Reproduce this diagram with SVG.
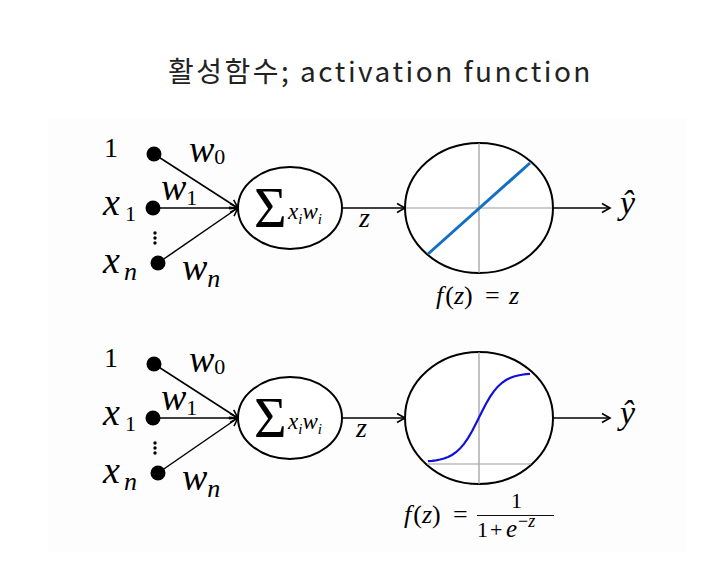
<svg xmlns="http://www.w3.org/2000/svg" width="716" height="568" viewBox="0 0 716 568">
<rect width="716" height="568" fill="#fff"/>
<style>
.bg{fill:#fdfdfd}
.edge{stroke:#000;stroke-width:1.5;fill:none}
.head{stroke:#000;stroke-width:1.6;fill:none}
.dot{fill:#000}
.node{fill:#fff;stroke:#000;stroke-width:2}
.axis{stroke:#999;stroke-width:1.2}
</style>
<rect class="bg" x="48" y="118" width="639" height="434"/>
<text x="168" y="82" font-family="Noto Sans CJK KR, sans-serif" font-size="28" fill="#222" letter-spacing="2.5">활성함수; activation function</text>
<g id="connectors">
<line class="edge" x1="154" y1="154" x2="237" y2="207.5"/>
<line class="edge" x1="153" y1="208" x2="237" y2="208"/>
<line class="edge" x1="158" y1="263" x2="237" y2="208.5"/>
<line class="edge" x1="342" y1="208" x2="404" y2="208"/>
<line class="edge" x1="553" y1="208" x2="609" y2="208"/>
<path class="head" d="M228.8,207.4 L238,208 L233.7,199.9"/>
<path class="head" d="M230,203.5 L238,208 L230,212.5"/>
<path class="head" d="M234,216.2 L238,208 L228.9,208.8"/>
<path class="head" d="M397,203.5 L405,208 L397,212.5"/>
<path class="head" d="M602,203.5 L610,208 L602,212.5"/>
<line class="edge" x1="154" y1="364" x2="237" y2="417.5"/>
<line class="edge" x1="153" y1="418" x2="237" y2="418"/>
<line class="edge" x1="158" y1="473" x2="237" y2="418.5"/>
<line class="edge" x1="342" y1="418" x2="404" y2="418"/>
<line class="edge" x1="553" y1="418" x2="609" y2="418"/>
<path class="head" d="M228.8,417.4 L238,418 L233.7,409.9"/>
<path class="head" d="M230,413.5 L238,418 L230,422.5"/>
<path class="head" d="M234,426.2 L238,418 L228.9,418.8"/>
<path class="head" d="M397,413.5 L405,418 L397,422.5"/>
<path class="head" d="M602,413.5 L610,418 L602,422.5"/>
</g>
<g id="in-bias-1">
<circle class="dot" cx="154" cy="154" r="7.5"/>
<text x="104" y="157" font-family="Liberation Serif" font-size="28">1</text>
<text x="189" y="162" font-family="Liberation Serif" font-size="38" font-style="italic">w<tspan font-style="normal" font-size="22" dy="2">0</tspan></text>
</g>
<g id="in-x1-1">
<circle class="dot" cx="153" cy="208" r="7.5"/>
<text x="103" y="215" font-family="Liberation Serif" font-size="38" font-style="italic">x<tspan font-style="normal" font-size="22" dy="6" dx="5">1</tspan></text>
<text x="161" y="200" font-family="Liberation Serif" font-size="38" font-style="italic">w<tspan font-style="normal" font-size="22" dy="5">1</tspan></text>
</g>
<g id="in-dots-1">
<circle class="dot" cx="155" cy="233" r="1.7"/>
<circle class="dot" cx="155" cy="238" r="1.7"/>
<circle class="dot" cx="155" cy="243" r="1.7"/>
</g>
<g id="in-xn-1">
<circle class="dot" cx="158" cy="263" r="7.5"/>
<text x="103" y="273" font-family="Liberation Serif" font-size="38" font-style="italic">x<tspan font-size="26" dy="7" dx="4">n</tspan></text>
<text x="182" y="280" font-family="Liberation Serif" font-size="38" font-style="italic">w<tspan font-size="26" dy="7">n</tspan></text>
</g>
<g id="sum-1">
<ellipse class="node" cx="290" cy="208" rx="52" ry="41"/>
<text x="254" y="227" font-family="Liberation Serif" font-size="56">Σ</text>
<text x="288" y="219" font-family="Liberation Serif" font-size="23" font-style="italic">x<tspan font-size="15" dy="5">i</tspan><tspan dy="-5">w</tspan><tspan font-size="15" dy="5">i</tspan></text>
</g>
<text x="359" y="227" font-family="Liberation Serif" font-size="28" font-style="italic">z</text>
<g id="act-linear">
<ellipse class="node" cx="479" cy="208" rx="74" ry="65"/>
<line class="axis" x1="479" y1="143" x2="479" y2="273"/>
<line class="axis" x1="406" y1="208" x2="552" y2="208"/>
<line x1="428" y1="254" x2="530" y2="163" stroke="#1170c4" stroke-width="3"/>
<text x="436" y="304" font-family="Liberation Serif" font-size="26" font-style="italic">f<tspan font-style="normal" dx="2">(</tspan>z<tspan font-style="normal">)</tspan><tspan font-style="normal" x="485">=</tspan><tspan x="509">z</tspan></text>
</g>
<text x="620" y="214" font-family="Liberation Serif" font-size="34" font-style="italic">ŷ</text>
<g id="in-bias-2">
<circle class="dot" cx="154" cy="364" r="7.5"/>
<text x="104" y="367" font-family="Liberation Serif" font-size="28">1</text>
<text x="189" y="372" font-family="Liberation Serif" font-size="38" font-style="italic">w<tspan font-style="normal" font-size="22" dy="2">0</tspan></text>
</g>
<g id="in-x1-2">
<circle class="dot" cx="153" cy="418" r="7.5"/>
<text x="103" y="425" font-family="Liberation Serif" font-size="38" font-style="italic">x<tspan font-style="normal" font-size="22" dy="6" dx="5">1</tspan></text>
<text x="161" y="410" font-family="Liberation Serif" font-size="38" font-style="italic">w<tspan font-style="normal" font-size="22" dy="5">1</tspan></text>
</g>
<g id="in-dots-2">
<circle class="dot" cx="155" cy="443" r="1.7"/>
<circle class="dot" cx="155" cy="448" r="1.7"/>
<circle class="dot" cx="155" cy="453" r="1.7"/>
</g>
<g id="in-xn-2">
<circle class="dot" cx="158" cy="473" r="7.5"/>
<text x="103" y="483" font-family="Liberation Serif" font-size="38" font-style="italic">x<tspan font-size="26" dy="7" dx="4">n</tspan></text>
<text x="182" y="490" font-family="Liberation Serif" font-size="38" font-style="italic">w<tspan font-size="26" dy="7">n</tspan></text>
</g>
<g id="sum-2">
<ellipse class="node" cx="290" cy="418" rx="52" ry="41"/>
<text x="254" y="437" font-family="Liberation Serif" font-size="56">Σ</text>
<text x="288" y="429" font-family="Liberation Serif" font-size="23" font-style="italic">x<tspan font-size="15" dy="5">i</tspan><tspan dy="-5">w</tspan><tspan font-size="15" dy="5">i</tspan></text>
</g>
<text x="356" y="437" font-family="Liberation Serif" font-size="28" font-style="italic">z</text>
<g id="act-sigmoid">
<ellipse class="node" cx="479" cy="418" rx="74" ry="66"/>
<line class="axis" x1="479" y1="352" x2="479" y2="484"/>
<line class="axis" x1="427" y1="464" x2="531" y2="464"/>
<polyline fill="none" stroke="#1010d8" stroke-width="2.2" points="428,461.1 432,460.8 436,460.3 440,459.5 444,458.5 448,457 452,455 456,452.2 460,448.6 464,443.9 468,438.1 472,431.2 476,423.5 479,417.5 482,411.5 486,403.8 490,396.9 494,391.1 498,386.4 502,382.8 506,380 510,378 514,376.5 518,375.5 522,374.75 526,374.2 530,373.9"/>
<text x="404" y="523" font-family="Liberation Serif" font-size="26" font-style="italic">f<tspan font-style="normal" dx="2">(</tspan>z<tspan font-style="normal">)</tspan><tspan font-style="normal" x="453">=</tspan></text>
<text x="511" y="508" font-family="Liberation Serif" font-size="22">1</text>
<line x1="477" y1="515.5" x2="554" y2="515.5" stroke="#111" stroke-width="1.2"/>
<text x="477" y="537" font-family="Liberation Serif" font-size="22">1<tspan x="490">+</tspan><tspan font-style="italic" x="506" font-size="25">e</tspan><tspan font-size="18" dy="-10" dx="1">−</tspan><tspan font-style="italic" font-size="18">z</tspan></text>
</g>
<text x="620" y="424" font-family="Liberation Serif" font-size="34" font-style="italic">ŷ</text>
</svg>
